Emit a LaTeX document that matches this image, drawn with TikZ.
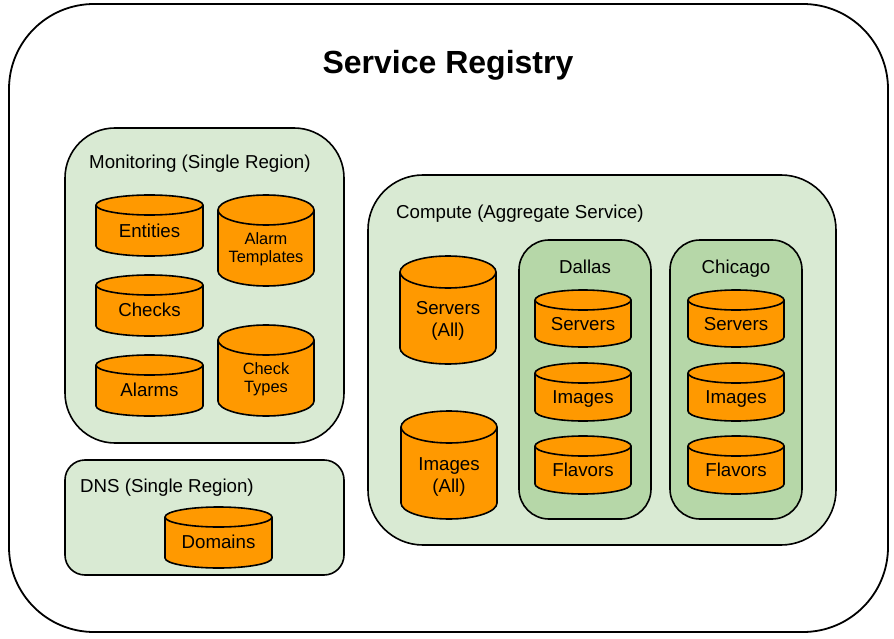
\documentclass[tikz,border=0pt]{standalone}
\usepackage{fontspec}
\setmainfont{Liberation Sans}
\usetikzlibrary{calc}
\definecolor{panelgreen}{HTML}{D9EAD3}
\definecolor{regiongreen}{HTML}{B6D7A8}
\definecolor{drumorange}{HTML}{FF9900}
\tikzset{
  box/.style={draw=black,line width=1.6pt},
  drumline/.style={draw=black,fill=drumorange,line width=1.6pt,line join=round},
  bigtxt/.style={font=\fontsize{18.7}{22}\selectfont,align=center,text depth=0pt},
  smalltxt/.style={font=\fontsize{16.4}{18}\selectfont,align=center,text depth=0pt},
  headtxt/.style={font=\fontsize{18.7}{22}\selectfont,anchor=west,inner sep=0pt},
}
% name, left, top, right, bottom, ellipse height, text style, label
\newcommand{\drum}[8]{
  \pgfmathsetmacro{\rx}{(#4-#2)/2}
  \pgfmathsetmacro{\my}{#3+2*#6+(#5-#3-2*#6)/2-#6/2}
  \draw[drumline](#2,#3+#6)--(#2,#5-#6)arc[start angle=180,end angle=360,x radius=\rx pt,y radius=#6 pt]
    --(#4,#3+#6)arc[start angle=0,end angle=180,x radius=\rx pt,y radius=#6 pt]--cycle;
  \draw[drumline,fill=none](#2,#3+#6)arc[start angle=180,end angle=360,x radius=\rx pt,y radius=#6 pt];
  \node[#7](#1) at ({(#2+#4)/2},\my){#8};
}
\begin{document}
\begin{tikzpicture}[x=1pt,y=-1pt]
\useasboundingbox(0,0) rectangle (894,639);
%outer frame
\draw[box,line width=1.8pt,fill=white,rounded corners=85pt](9,4) rectangle (888,632);
\node[font=\bfseries\fontsize{32}{38}\selectfont](title) at (448,65){Service Registry};

%panels
\draw[box,fill=panelgreen,rounded corners=50pt](65,128) rectangle (344,443);
\draw[box,fill=panelgreen,rounded corners=20pt](65,460) rectangle (344,575);
\draw[box,fill=panelgreen,rounded corners=55pt](368,175) rectangle (836,545);
\draw[box,fill=regiongreen,rounded corners=30pt](519,240) rectangle (651,519);
\draw[box,fill=regiongreen,rounded corners=30pt](670,240) rectangle (802,519);

\node[headtxt](monitoring) at (89,164){Monitoring (Single Region)};
\node[headtxt](dns) at (80,488){DNS (Single Region)};
\node[headtxt](compute) at (396,214){Compute (Aggregate Service)};
\node[bigtxt](dallas) at (585,267){Dallas};
\node[bigtxt](chicago) at (736,267){Chicago};

%monitoring
\drum{entities}{96}{195}{203}{256}{10}{bigtxt}{Entities}
\drum{checks}{96}{275}{203}{336}{10}{bigtxt,yshift=1pt}{Checks}
\drum{alarms}{96}{355}{203}{416}{10}{bigtxt,yshift=1pt}{Alarms}
\drum{templates}{218}{195}{314}{286}{15}{smalltxt}{Alarm\\Templates}
\drum{types}{218}{325}{314}{416}{15}{smalltxt}{Check\\Types}
%dns
\drum{domains}{165}{507}{272}{568}{10}{bigtxt,yshift=1pt}{Domains}
%compute
\drum{serversall}{400}{256}{496}{364}{16}{bigtxt,yshift=-1pt}{Servers\\(All)}
\drum{imagesall}{401}{411}{497}{519}{16}{bigtxt,yshift=-2pt}{Images\\(All)}
%dallas
\drum{dservers}{535}{290}{631}{347}{10}{bigtxt}{Servers}
\drum{dimages}{535}{363}{631}{421}{10}{bigtxt}{Images}
\drum{dflavors}{535}{436}{631}{494}{10}{bigtxt}{Flavors}
%chicago
\drum{cservers}{688}{290}{784}{347}{10}{bigtxt}{Servers}
\drum{cimages}{688}{363}{784}{421}{10}{bigtxt}{Images}
\drum{cflavors}{688}{436}{784}{494}{10}{bigtxt}{Flavors}
\end{tikzpicture}
\end{document}
